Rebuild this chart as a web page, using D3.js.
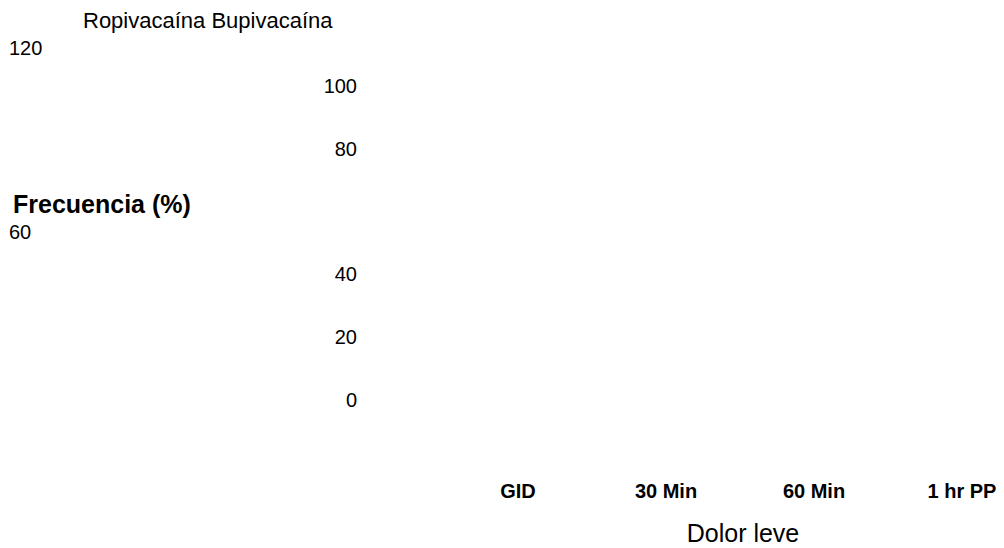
<!DOCTYPE html>
<html><head><meta charset="utf-8">
<script src="https://cdn.jsdelivr.net/npm/d3@7"></script>
<style>body{margin:0;background:#fff;} text{font-family:Arial,"Liberation Sans",sans-serif;fill:#000;}</style>
</head><body>
<svg id="c" width="1004" height="548"></svg>
<script>
const categories = ["GID", "30 Min", "60 Min", "1 hr PP"];
const seriesNames = ["Ropivacaína", "Bupivacaína"];
const ropivacaina = [null, null, null, null];
const bupivacaina = [null, null, null, null];
const yTicks = [0, 20, 40, 60, 80, 100, 120];
const yTitle = "Frecuencia (%)";
const xTitle = "Dolor leve";

const svg = d3.select("#c");
const y = d3.scaleLinear().domain([0, 100]).range([407, 93]);
const x = d3.scalePoint().domain(categories).range([518, 962]);

// legend
svg.append("text").attr("x", 83).attr("y", 28).attr("font-size", 22).text(seriesNames.join(" "));

// y tick labels (120 and 60 wrapped to the left edge)
const wrapOffset = {120: 25, 60: 20};
const g = svg.append("g");
yTicks.forEach(t => {
  const wrapped = (t in wrapOffset);
  g.append("text")
    .attr("x", wrapped ? 9 : 357)
    .attr("y", y(t) + (wrapped ? wrapOffset[t] : 0))
    .attr("text-anchor", wrapped ? "start" : "end")
    .attr("font-size", 20)
    .text(t);
});

svg.append("text").attr("x", 13).attr("y", 213).attr("font-size", 25).attr("font-weight", "bold").text(yTitle);

// bars (no visible values)
const bw = 30;
[ropivacaina, bupivacaina].forEach((vals, si) => {
  svg.append("g").selectAll("rect").data(vals.map((v, i) => ({v, c: categories[i]})).filter(d => d.v != null))
    .join("rect")
    .attr("x", d => x(d.c) - bw + si * bw).attr("width", bw)
    .attr("y", d => y(d.v)).attr("height", d => y(0) - y(d.v));
});

svg.append("g").selectAll("text").data(categories).join("text")
  .attr("x", d => x(d)).attr("y", 498).attr("text-anchor", "middle")
  .attr("font-size", 20).attr("font-weight", "bold").text(d => d);

svg.append("text").attr("x", 743).attr("y", 542).attr("text-anchor", "middle").attr("font-size", 25).text(xTitle);
</script>
</body></html>
